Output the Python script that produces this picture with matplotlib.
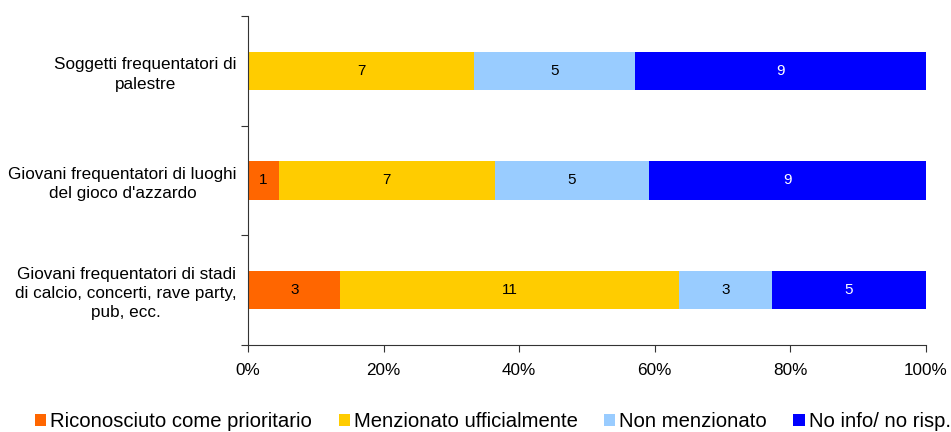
import matplotlib.pyplot as plt
import numpy as np

plt.rcParams['font.family'] = ['Liberation Sans', 'DejaVu Sans']

categories = ["Soggetti frequentatori di\npalestre",
              "Giovani frequentatori di luoghi\ndel gioco d'azzardo",
              "Giovani frequentatori di stadi\ndi calcio, concerti, rave party,\npub, ecc."]
series = ["Riconosciuto come prioritario", "Menzionato ufficialmente",
          "Non menzionato", "No info/ no risp."]
riconosciuto = [0, 1, 3]
menzionato = [7, 7, 11]
non_menzionato = [5, 5, 3]
no_info = [9, 9, 5]
colors = ["#FF6600", "#FFCC00", "#99CCFF", "#0000FF"]
text_colors = ["black", "black", "black", "white"]

vals = np.array([riconosciuto, menzionato, non_menzionato, no_info], dtype=float)
totals = vals.sum(axis=0)
pct = vals / totals * 100

fig = plt.figure(figsize=(9.51, 4.32), dpi=100)
ax = fig.add_axes([0.2608, 0.2014, 0.7129, 0.7616])

ypos = np.arange(len(categories))
left = np.zeros(len(categories))
for i in range(4):
    ax.barh(ypos, pct[i], left=left, height=0.35, color=colors[i], label=series[i])
    for j in range(len(categories)):
        if vals[i, j] > 0:
            ax.text(left[j] + pct[i, j] / 2, ypos[j], "%d" % vals[i, j],
                    ha='center', va='center', fontsize=11, color=text_colors[i])
    left += pct[i]

ax.set_xlim(0, 100)
ax.set_ylim(len(categories) - 0.5, -0.5)
ax.set_xticks(np.arange(0, 101, 20))
ax.set_xticklabels(["%d%%" % v for v in range(0, 101, 20)], fontsize=12.3)
ax.set_yticks(np.arange(-0.5, len(categories), 1.0))
ax.set_yticklabels([])
ax.set_yticks(ypos, minor=True)
labels = ax.set_yticklabels(categories, minor=True, fontsize=12.3, ha='right',
                            multialignment='center')
for t in labels:
    t.set_linespacing(1.35)
ax.tick_params(axis='y', which='minor', length=0, pad=8)
ax.tick_params(axis='y', which='major', length=5, color='#333333')
ax.tick_params(axis='x', length=5, color='#333333', pad=8)
ax.spines['top'].set_visible(False)
ax.spines['right'].set_visible(False)
ax.spines['left'].set_color('#333333')
ax.spines['bottom'].set_color('#333333')

fig.legend(loc='center left', bbox_to_anchor=(0.037, 0.024), ncol=4, frameon=False,
           fontsize=14.6, handlelength=0.55, handleheight=0.55, handletextpad=0.2,
           columnspacing=1.3, borderaxespad=0, borderpad=0)

fig.savefig("out.png", dpi=100)
